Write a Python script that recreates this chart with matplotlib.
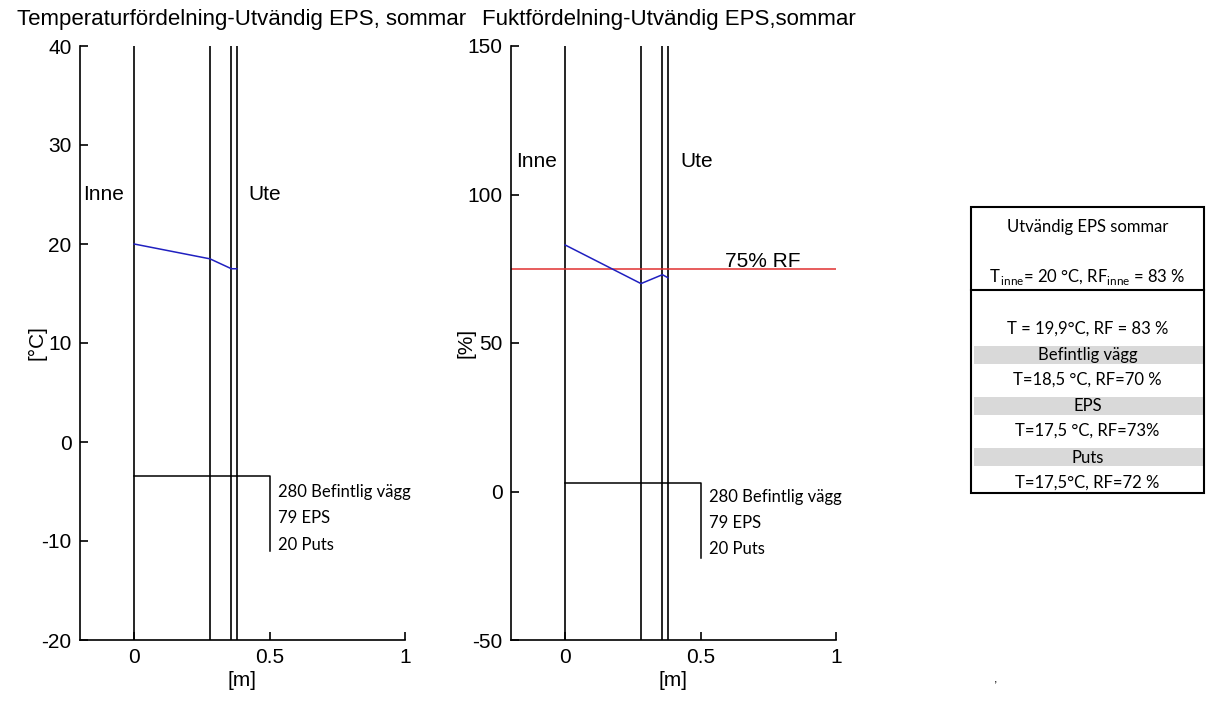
import matplotlib.pyplot as plt
from matplotlib.patches import Rectangle

# layer boundaries [m] and values at each boundary
layer_x = [0, 0.28, 0.359, 0.379]
temp = [20, 18.5, 17.5, 17.5]
rf = [83, 70, 73, 72]
rf_limit = 75
layer_labels = ['280 Befintlig vägg', '79 EPS', '20 Puts']

# summary table rows
table_head = ['Utvändig EPS sommar', r'T$_{\,\mathregular{inne}}$= 20 °C, RF$_{\mathregular{inne}}$ = 83 %']
table_rows = ['T = 19,9°C, RF = 83 %', 'Befintlig vägg', 'T=18,5 °C, RF=70 %', 'EPS',
              'T=17,5 °C, RF=73%', 'Puts', 'T=17,5°C, RF=72 %']
row_shaded = [False, True, False, True, False, True, False]

plt.rcParams['font.family'] = ['Liberation Sans', 'DejaVu Sans']
plt.rcParams['axes.unicode_minus'] = False
W, H = 1206, 704
fig = plt.figure(figsize=(W / 100, H / 100), dpi=100)


def px_axes(x0, y0, x1, y1):
    return fig.add_axes([x0 / W, 1 - y1 / H, (x1 - x0) / W, (y1 - y0) / H])


def style_axes(ax, ylim, yticks):
    ax.set_xlim(-0.2, 1)
    ax.set_ylim(*ylim)
    ax.set_xticks([0, 0.5, 1])
    ax.set_xticklabels(['0', '0.5', '1'])
    ax.set_yticks(yticks)
    for s in ['top', 'right']:
        ax.spines[s].set_visible(False)
    for s in ['left', 'bottom']:
        ax.spines[s].set_linewidth(1.2)
    ax.tick_params(direction='in', length=6, width=1.2, labelsize=15, pad=6)
    ax.set_xlabel('[m]', fontsize=15, labelpad=3)
    for x in layer_x:
        ax.axvline(x, color='black', lw=1.2)


small_font = dict(family='Lato', fontsize=12)

# ---------------- temperature ----------------
ax1 = px_axes(80, 46, 405, 640)
style_axes(ax1, (-20, 40), range(-20, 41, 10))
ax1.plot(layer_x, temp, color='#2020c0', lw=1.1)
ax1.set_ylabel('[°C]', fontsize=15, labelpad=-4)
ax1.text(-0.19, 25, 'Inne', fontsize=15, va='center')
ax1.text(0.42, 25, 'Ute', fontsize=15, va='center')
ax1.plot([0, 0.5, 0.5], [-3.4, -3.4, -11], color='black', lw=1.1)
for i, lab in enumerate(layer_labels):
    ax1.text(0.53, -5 - i * 2.7, lab, va='center', **small_font)
fig.text(17 / W, 1 - 20 / H, 'Temperaturfördelning-Utvändig EPS, sommar',
         fontsize=16, va='center', ha='left')

# ---------------- relative humidity ----------------
ax2 = px_axes(511, 46, 836, 640)
style_axes(ax2, (-50, 150), range(-50, 151, 50))
ax2.axhline(rf_limit, color='#e03030', lw=1.1)
ax2.plot(layer_x, rf, color='#2020c0', lw=1.1)
ax2.set_ylabel('[%]', fontsize=15, labelpad=-6)
ax2.text(0.59, rf_limit + 2.5, '75% RF', fontsize=15, va='center')
ax2.text(-0.18, 111, 'Inne', fontsize=15, va='center')
ax2.text(0.425, 111, 'Ute', fontsize=15, va='center')
ax2.plot([0, 0.5, 0.5], [3, 3, -22.4], color='black', lw=1.1)
for i, lab in enumerate(layer_labels):
    ax2.text(0.53, -1.9 - i * 8.8, lab, va='center', **small_font)
fig.text(482 / W, 1 - 20 / H, 'Fuktfördelning-Utvändig EPS,sommar',
         fontsize=16, va='center', ha='left')

# ---------------- table ----------------
tx = fig.add_axes([0, 0, 1, 1])
tx.set_xlim(0, W)
tx.set_ylim(H, 0)
tx.axis('off')
left, right, top, bottom = 971, 1204, 207, 493
cx = (left + right) / 2
band_top = [0, 346, 0, 397, 0, 448, 0]
row_y = [329, 355, 380, 406, 431, 458, 483]
for y0, shaded in zip(band_top, row_shaded):
    if shaded:
        tx.add_patch(Rectangle((974, y0), right - 974, 18, color='#d9d9d9', lw=0))
tx.add_patch(Rectangle((left, top), right - left, bottom - top, fill=False,
                       edgecolor='black', lw=1.5))
tx.plot([left, right], [290, 290], color='black', lw=1.5)
tx.text(cx, 227, table_head[0], ha='center', va='center', **small_font)
tx.text(cx, 277, table_head[1], ha='center', va='center', **small_font)
for y, txt in zip(row_y, table_rows):
    tx.text(cx, y, txt, ha='center', va='center', **small_font)
tx.text(996, 680, ',', fontsize=9, ha='center', va='center')

fig.savefig('out.png', dpi=100)
